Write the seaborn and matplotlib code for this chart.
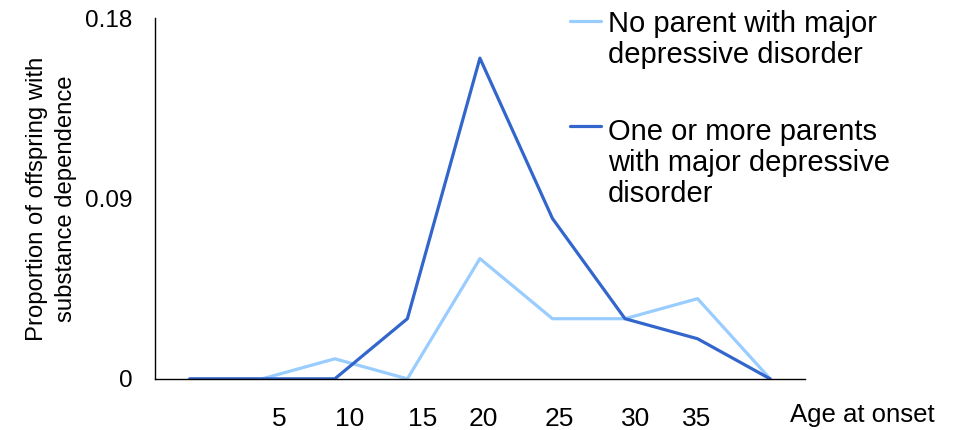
import numpy as np
import pandas as pd
import seaborn as sns
import matplotlib.pyplot as plt
from matplotlib.lines import Line2D

# data
points = list(range(9))
no_parent = [0, 0, 0.01, 0, 0.06, 0.03, 0.03, 0.04, 0]
parent_mdd = [0, 0, 0, 0.03, 0.16, 0.08, 0.03, 0.02, 0]
age_labels = ["5", "10", "15", "20", "25", "30", "35"]
label_pos = [1.24, 2.21, 3.21, 4.05, 5.10, 6.14, 6.98]
series_names = ["No parent with major\ndepressive disorder",
                "One or more parents\nwith major depressive\ndisorder"]

light = "#99CCFF"
dark = "#3366CC"

df = pd.DataFrame({
    "point": points * 2,
    "value": no_parent + parent_mdd,
    "group": [series_names[0]] * 9 + [series_names[1]] * 9,
})

sns.set_style("white")
plt.rcParams["font.family"] = ["Liberation Sans", "DejaVu Sans"]
plt.rcParams["text.color"] = "black"
plt.rcParams["xtick.color"] = "black"
plt.rcParams["ytick.color"] = "black"

fig = plt.figure(figsize=(9.56, 4.30), dpi=100)
ax = fig.add_axes([0.162, 0.119, 0.680, 0.839])

sns.lineplot(data=df, x="point", y="value", hue="group",
             palette=[light, dark], linewidth=2.3, legend=False, ax=ax)

ax.set_xlim(-0.48, 8.48)
ax.set_ylim(0, 0.18)
ax.set_yticks([0, 0.09, 0.18])
ax.set_yticklabels(["0", "0.09", "0.18"], fontsize=17.5)
ax.set_xticks(label_pos)
ax.set_xticklabels(age_labels, fontsize=19)
ax.tick_params(axis="both", length=0)
ax.tick_params(axis="x", pad=20)
ax.tick_params(axis="y", pad=16)
ax.set_xlabel("")
ax.set_ylabel("Proportion of offspring with\nsubstance dependence",
              fontsize=17.2, labelpad=6, linespacing=1.4, color="black")

for s in ["top", "right"]:
    ax.spines[s].set_visible(False)
for s in ["left", "bottom"]:
    ax.spines[s].set_color("black")
    ax.spines[s].set_linewidth(1.0)

fig.text(790 / 956, 1 - 415 / 430, "Age at onset", fontsize=18.5, va="center", ha="left")

# legend drawn by hand: handle aligned with first line of each label
# (ybase = baseline of the last line of each label)
for name, col, yline, ybase in zip(series_names, [light, dark], [21, 126], [63, 202]):
    yf = 1 - yline / 430
    fig.add_artist(Line2D([570 / 956, 601 / 956], [yf, yf], color=col,
                          linewidth=2.3, transform=fig.transFigure))
    fig.text(608 / 956, 1 - ybase / 430, name, fontsize=21,
             va="baseline", ha="left", linespacing=1.13)

fig.savefig("out.png", dpi=100)
